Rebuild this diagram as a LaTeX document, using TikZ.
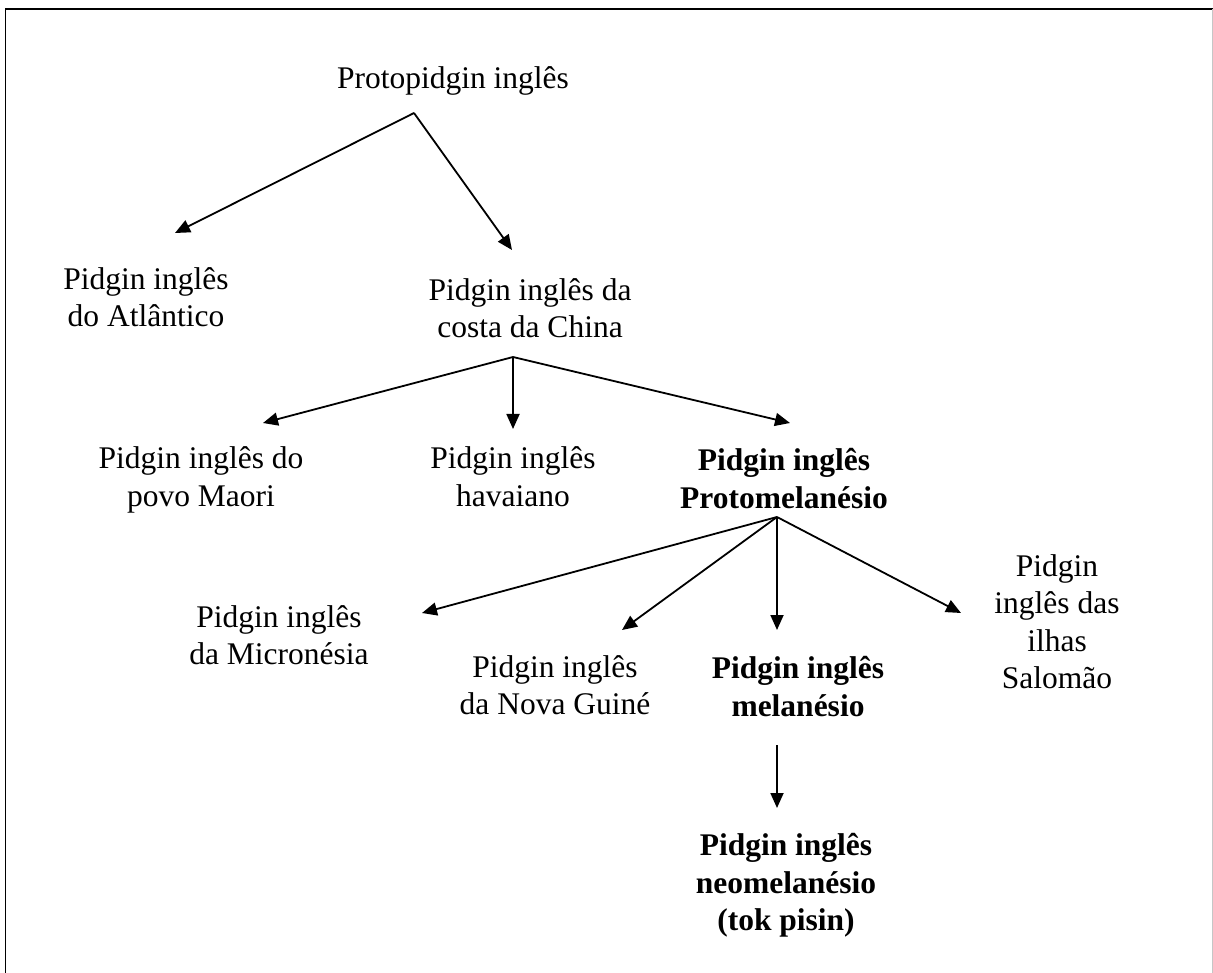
\documentclass[tikz,border=0pt]{standalone}
\usepackage{fontspec}
\setmainfont{Liberation Serif}
\usetikzlibrary{arrows.meta}
\begin{document}
\begin{tikzpicture}[x=1pt,y=-1pt,
  lbl/.style={anchor=north,inner sep=0pt,align=center,
    font=\fontsize{31.5}{37.5}\selectfont},
  blbl/.style={lbl,font=\fontsize{31.5}{37.5}\selectfont\bfseries},
  arr/.style={line width=1.8pt,-{Triangle[length=15pt,width=13pt]}}]
\useasboundingbox (0,0) rectangle (1213,973);
\draw[line width=1.8pt] (5.5,990) -- (5.5,9) -- (1212.5,9);
\draw[line width=1pt,gray!45] (1212.5,9) -- (1212.5,990);

\node[lbl] (proto) at (453,66.3) {Protopidgin inglês};
\node[lbl] (atl) at (146,267.3) {Pidgin inglês\\do Atlântico};
\node[lbl] (china) at (530,278.3) {Pidgin inglês da\\costa da China};
\node[lbl] (maori) at (201,446.8) {Pidgin inglês do\\povo Maori};
\node[lbl] (hav) at (513,446.8) {Pidgin inglês\\havaiano};
\node[blbl] (protomel) at (784,448.3) {Pidgin inglês\\Protomelanésio};
\node[lbl] (micro) at (279,605.3) {Pidgin inglês\\da Micronésia};
\node[lbl] (nova) at (555,655.3) {Pidgin inglês\\da Nova Guiné};
\node[blbl] (mel) at (798,656.3) {Pidgin inglês\\melanésio};
\node[blbl] (neo) at (786,833.3) {Pidgin inglês\\neomelanésio\\(tok pisin)};
\node[lbl] (sal) at (1057,554.3) {Pidgin\\inglês das\\ilhas\\Salomão};

\coordinate (f0) at (414,113);
\coordinate (t1) at (175,233);
\coordinate (t2) at (512,250);
\coordinate (f1) at (513,357);
\coordinate (t3) at (263,423);
\coordinate (t4) at (513,429);
\coordinate (t5) at (790,423);
\coordinate (f2) at (777,517);
\coordinate (t6) at (422,613);
\coordinate (t7) at (622,630);
\coordinate (t8) at (777,630);
\coordinate (t9) at (961,613);
\coordinate (f3) at (777,745);
\coordinate (t10) at (777,808);

\draw[arr] (f0) -- (t1);
\draw[arr] (f0) -- (t2);
\draw[arr] (f1) -- (t3);
\draw[arr] (f1) -- (t4);
\draw[arr] (f1) -- (t5);
\draw[arr] (f2) -- (t6);
\draw[arr] (f2) -- (t7);
\draw[arr] (f2) -- (t8);
\draw[arr] (f2) -- (t9);
\draw[arr] (f3) -- (t10);
\end{tikzpicture}
\end{document}
